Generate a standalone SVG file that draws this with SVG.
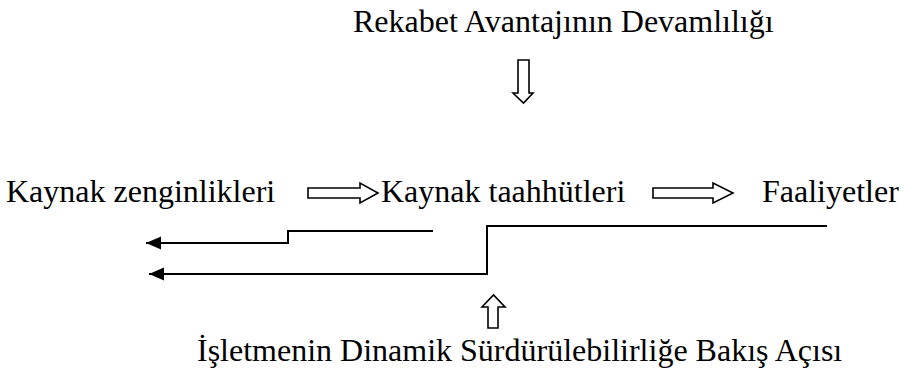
<svg xmlns="http://www.w3.org/2000/svg" width="904" height="372" viewBox="0 0 904 372">
  <style>
    .lbl { font-family: 'Liberation Serif', 'Times New Roman', Times, serif; font-size: 32px; fill: #000; }
    .block { fill: #fff; stroke: #000; stroke-width: 1.6; stroke-linejoin: miter; }
    .conn { fill: none; stroke: #000; stroke-width: 2; }
  </style>
  <defs>
    <marker id="ah" markerUnits="userSpaceOnUse" markerWidth="16" markerHeight="14" refX="15" refY="6.5" orient="auto">
      <path d="M0,0 L15,6.5 L0,13 z" fill="#000"/>
    </marker>
  </defs>
  <rect width="904" height="372" fill="#fff"/>

  <g id="node-rekabet">
    <text class="lbl" x="353" y="32">Rekabet Avantajının Devamlılığı</text>
  </g>
  <g id="node-kaynak-zenginlikleri">
    <text class="lbl" x="6" y="202">Kaynak zenginlikleri</text>
  </g>
  <g id="node-kaynak-taahhutleri">
    <text class="lbl" x="381" y="202">Kaynak taahhütleri</text>
  </g>
  <g id="node-faaliyetler">
    <text class="lbl" x="762" y="202">Faaliyetler</text>
  </g>
  <g id="node-isletmenin">
    <text class="lbl" x="197" y="361">İşletmenin Dinamik Sürdürülebilirliğe Bakış Açısı</text>
  </g>

  <g id="connectors">
    <path class="block" d="M518,60 L529,60 L529,93 L533,93 L523.5,103 L513,93 L518,93 Z"/>
    <path class="block" d="M488,328 L498,328 L498,307 L505,307 L493.5,295 L482,307 L488,307 Z"/>
    <path class="block" d="M308,188 L360,188 L360,183 L378,193 L360,203 L360,198 L308,198 Z"/>
    <path class="block" d="M653,188 L713,188 L713,183 L733,193 L713,203 L713,198 L653,198 Z"/>
    <polyline class="conn" points="433,231 288,231 288,243 146,243" marker-end="url(#ah)"/>
    <polyline class="conn" points="827,226 487,226 487,274 149,274" marker-end="url(#ah)"/>
  </g>
</svg>
